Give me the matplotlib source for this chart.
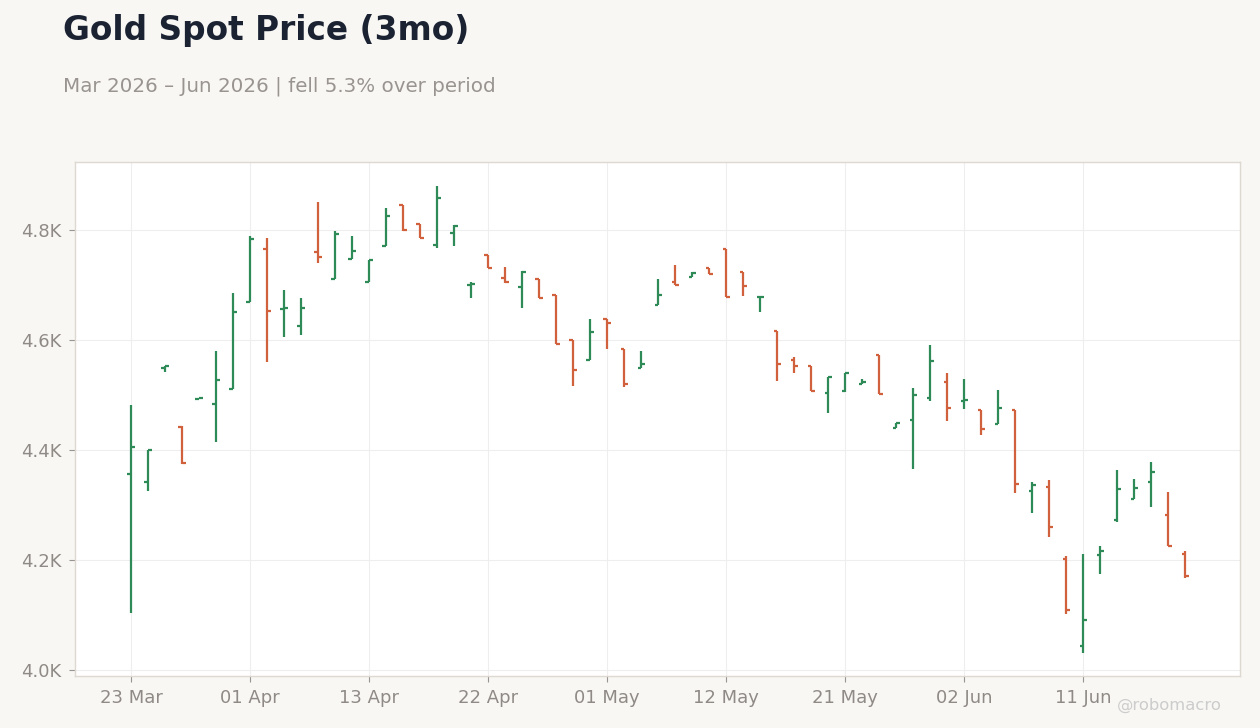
import matplotlib
matplotlib.use('Agg')
import matplotlib.pyplot as plt
from matplotlib.ticker import FuncFormatter
import pandas as pd

plt.rcParams['font.family'] = ['DejaVu Sans']

# trading days, Good Friday and Memorial Day skipped
dates = pd.bdate_range('2026-03-23', '2026-06-19', freq='C',
                       holidays=['2026-04-03', '2026-05-25'])

opens = [4356, 4341, 4550, 4442, 4493, 4484, 4511, 4670, 4766, 4657,
         4626, 4761, 4711, 4747, 4705, 4771, 4845, 4812, 4773, 4795,
         4700, 4755, 4713, 4697, 4711, 4682, 4601, 4563, 4639, 4583,
         4550, 4664, 4705, 4715, 4731, 4765, 4724, 4678, 4617, 4564,
         4553, 4504, 4508, 4521, 4573, 4441, 4455, 4495, 4524, 4489,
         4473, 4447, 4473, 4326, 4333, 4201, 4044, 4209, 4273, 4311,
         4341, 4281, 4211]
highs = [4482, 4401, 4553, 4443, 4495, 4580, 4685, 4789, 4785, 4691,
         4676, 4851, 4799, 4790, 4745, 4841, 4845, 4812, 4880, 4810,
         4705, 4755, 4733, 4725, 4711, 4682, 4601, 4638, 4639, 4583,
         4581, 4712, 4736, 4724, 4731, 4765, 4724, 4680, 4617, 4570,
         4553, 4533, 4541, 4530, 4573, 4450, 4512, 4592, 4541, 4530,
         4473, 4510, 4473, 4341, 4345, 4207, 4211, 4225, 4364, 4347,
         4378, 4324, 4216]
lows = [4103, 4326, 4542, 4374, 4492, 4415, 4511, 4670, 4561, 4606,
        4610, 4741, 4711, 4747, 4705, 4771, 4799, 4785, 4768, 4771,
        4676, 4731, 4704, 4659, 4677, 4593, 4517, 4563, 4583, 4514,
        4550, 4664, 4700, 4715, 4720, 4678, 4681, 4652, 4526, 4541,
        4507, 4467, 4505, 4521, 4502, 4441, 4365, 4490, 4452, 4475,
        4428, 4447, 4321, 4286, 4242, 4101, 4031, 4175, 4270, 4311,
        4297, 4225, 4168]
closes = [4406, 4401, 4552, 4376, 4494, 4528, 4651, 4784, 4653, 4659,
          4659, 4751, 4793, 4762, 4745, 4826, 4800, 4785, 4859, 4808,
          4702, 4732, 4705, 4724, 4677, 4593, 4546, 4615, 4632, 4520,
          4556, 4682, 4700, 4722, 4721, 4678, 4699, 4679, 4557, 4553,
          4507, 4533, 4540, 4523, 4502, 4450, 4501, 4562, 4477, 4491,
          4439, 4477, 4338, 4337, 4260, 4109, 4091, 4217, 4329, 4331,
          4360, 4225, 4171]

tick_labels = ['23 Mar', '01 Apr', '13 Apr', '22 Apr', '01 May',
               '12 May', '21 May', '02 Jun', '11 Jun']

UP = '#2e8b57'
DOWN = '#d1603d'
BG = '#f8f7f4'


def main():
    fig = plt.figure(figsize=(12.6, 7.28), dpi=100, facecolor=BG)
    ax = fig.add_axes([0.0595, 0.0714, 0.9245, 0.7061])
    ax.set_facecolor('white')

    xs = list(range(len(dates)))
    w = 0.22
    for i in xs:
        c = UP if closes[i] >= opens[i] else DOWN
        ax.vlines(i, lows[i], highs[i], color=c, lw=1.6, zorder=3)
        ax.hlines(opens[i], i - w, i, color=c, lw=1.6, zorder=3)
        ax.hlines(closes[i], i, i + w, color=c, lw=1.6, zorder=3)

    # x ticks on the listed dates
    label_dates = {d.strftime('%d %b'): k for k, d in enumerate(dates)}
    ax.set_xticks([label_dates[t] for t in tick_labels])
    ax.set_xticklabels(tick_labels)
    ax.set_xlim(-3.3, 65.2)

    ax.set_yticks([4000, 4200, 4400, 4600, 4800])
    ax.yaxis.set_major_formatter(FuncFormatter(lambda v, p: '%.1fK' % (v / 1000)))
    ax.set_ylim(3989, 4924)

    ax.grid(True, color='#eeeeee', lw=0.8, zorder=0)
    ax.set_axisbelow(True)
    for s in ax.spines.values():
        s.set_color('#ddd8d0')
        s.set_linewidth(1)
    ax.tick_params(colors='#999490', labelsize=13, length=4, width=0.8,
                   labelcolor='#8f8a86', pad=5.7)

    fig.text(0.05, 0.945, 'Gold Spot Price (3mo)', fontsize=23.6,
             fontweight='bold', color='#1b2333', va='baseline')
    fig.text(0.05, 0.874, 'Mar 2026 \u2013 Jun 2026 | fell 5.3% over period',
             fontsize=14.3, color='#999490', va='baseline')
    fig.text(0.97, 0.025, '@robomacro', fontsize=11.8, color='#cccccc',
             ha='right', va='baseline')

    fig.savefig('out.png', dpi=100, facecolor=BG)


if __name__ == '__main__':
    main()
